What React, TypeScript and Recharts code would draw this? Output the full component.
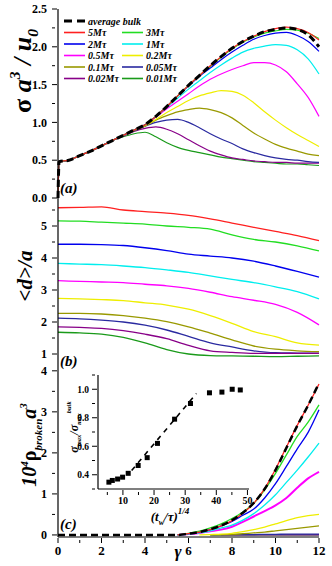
import React from "react"
import { LineChart, Line, XAxis, YAxis, Legend, Label, ComposedChart, Scatter, ReferenceLine } from "recharts"

const FONT = "'Liberation Serif', 'Times New Roman', serif"

// waiting times, legend order
const waitNames = ["5Mτ", "3Mτ", "2Mτ", "1Mτ", "0.5Mτ", "0.2Mτ", "0.1Mτ", "0.05Mτ", "0.02Mτ", "0.01Mτ"]
const waitColors = ["#ff2020", "#22dd22", "#0000ee", "#00eeee", "#ff00ff", "#eeee00", "#999900", "#2a2aa0", "#880088", "#1a9a1a"]

// (a) stress vs strain
const gammaA = [0, 0.05, 0.5, 1, 1.5, 2, 2.5, 3, 3.5, 4, 4.5, 5, 5.5, 6, 6.5, 7, 7.5, 8, 8.5, 9, 9.5, 10, 10.5, 11, 11.5, 12]
const earlyA = [0, 0.48, 0.5, 0.56, 0.62, 0.69, 0.76]
const bulkA = [...earlyA, 0.83, 0.9, 0.97, 1.08, 1.21, 1.35, 1.49, 1.62, 1.75, 1.87, 1.98, 2.07, 2.14, 2.2, 2.23, 2.25, 2.23, 2.16, 2.0]
const stressA = [
  [...earlyA, 0.83, 0.9, 0.97, 1.08, 1.21, 1.35, 1.49, 1.62, 1.75, 1.87, 1.98, 2.07, 2.14, 2.2, 2.24, 2.26, 2.24, 2.19, 2.09],
  [...earlyA, 0.83, 0.9, 0.97, 1.08, 1.21, 1.35, 1.49, 1.62, 1.74, 1.86, 1.97, 2.06, 2.13, 2.18, 2.21, 2.23, 2.22, 2.18, 2.11],
  [...earlyA, 0.83, 0.9, 0.97, 1.08, 1.21, 1.35, 1.48, 1.61, 1.72, 1.83, 1.93, 2.02, 2.1, 2.15, 2.18, 2.19, 2.15, 2.07, 1.94],
  [...earlyA, 0.83, 0.9, 0.97, 1.08, 1.2, 1.32, 1.44, 1.55, 1.66, 1.76, 1.85, 1.93, 1.98, 2.01, 2.03, 2.02, 1.96, 1.84, 1.64],
  [...earlyA, 0.83, 0.9, 0.97, 1.07, 1.18, 1.28, 1.38, 1.48, 1.57, 1.64, 1.7, 1.75, 1.79, 1.79, 1.76, 1.67, 1.51, 1.33, 1.08],
  [...earlyA, 0.83, 0.9, 0.96, 1.04, 1.13, 1.21, 1.29, 1.35, 1.39, 1.42, 1.41, 1.36, 1.26, 1.14, 1.03, 0.93, 0.84, 0.76, 0.68],
  [...earlyA, 0.83, 0.89, 0.95, 1.03, 1.09, 1.14, 1.17, 1.19, 1.17, 1.13, 1.06, 0.96, 0.86, 0.78, 0.71, 0.66, 0.62, 0.58, 0.56],
  [...earlyA, 0.83, 0.89, 0.95, 1.0, 1.03, 1.04, 1.0, 0.93, 0.85, 0.78, 0.72, 0.65, 0.6, 0.56, 0.53, 0.51, 0.5, 0.48, 0.47],
  [...earlyA, 0.82, 0.88, 0.92, 0.94, 0.91, 0.85, 0.77, 0.69, 0.62, 0.57, 0.53, 0.51, 0.49, 0.48, 0.47, 0.47, 0.46, 0.46, 0.46],
  [...earlyA, 0.81, 0.85, 0.87, 0.81, 0.73, 0.67, 0.63, 0.6, 0.57, 0.54, 0.52, 0.5, 0.48, 0.47, 0.46, 0.45, 0.45, 0.44, 0.43],
]

// (b) mean distance
const gammaB = [0, 1, 2, 3, 4, 5, 6, 7, 8, 9, 10, 11, 12]
const distB = [
  [5.57, 5.58, 5.6, 5.5, 5.45, 5.4, 5.33, 5.22, 5.09, 4.96, 4.83, 4.7, 4.54],
  [5.16, 5.15, 5.12, 5.09, 5.06, 5.0, 4.96, 4.9, 4.72, 4.58, 4.5, 4.38, 4.22],
  [4.43, 4.43, 4.42, 4.39, 4.32, 4.23, 4.12, 4.06, 4.0, 3.9, 3.75, 3.58, 3.4],
  [3.83, 3.81, 3.79, 3.75, 3.7, 3.63, 3.55, 3.44, 3.33, 3.23, 3.1, 2.95, 2.72],
  [3.29, 3.27, 3.25, 3.23, 3.18, 3.13, 3.05, 2.93, 2.79, 2.68, 2.55, 2.3, 1.91],
  [2.74, 2.72, 2.7, 2.67, 2.6, 2.53, 2.4, 2.2, 1.96, 1.7, 1.54, 1.35, 1.28],
  [2.27, 2.27, 2.25, 2.2, 2.12, 2.01, 1.85, 1.65, 1.44, 1.25, 1.15, 1.1, 1.07],
  [2.12, 2.1, 2.06, 2.0, 1.9, 1.75, 1.55, 1.35, 1.22, 1.1, 1.04, 1.03, 1.02],
  [1.85, 1.83, 1.8, 1.73, 1.62, 1.48, 1.27, 1.1, 1.05, 1.02, 1.02, 1.02, 1.02],
  [1.68, 1.66, 1.62, 1.52, 1.35, 1.14, 1.0, 0.95, 0.94, 0.93, 0.92, 0.93, 0.94],
]

// (c) broken bond density
const gap = (n: number) => Array(n).fill(null)
const gammaC = [0, 0.5, 1, 1.5, 2, 2.5, 3, 3.5, 4, 4.5, 5, 5.5, 6, 6.5, 7, 7.5, 8, 8.5, 9, 9.5, 10, 10.5, 11, 11.5, 12]
const bulkC = [0, 0, 0, 0, 0, 0, 0, 0, 0, 0, 0, 0, 0.03, 0.07, 0.14, 0.23, 0.36, 0.54, 0.78, 1.12, 1.58, 2.12, 2.66, 3.16, 3.7]
const brokenC = [
  [...gap(11), 0, 0.03, 0.07, 0.13, 0.22, 0.35, 0.53, 0.77, 1.13, 1.6, 2.14, 2.67, 3.16, 3.68],
  [...gap(11), 0, 0.04, 0.09, 0.17, 0.27, 0.4, 0.56, 0.77, 1.1, 1.5, 1.95, 2.4, 2.75, 3.17],
  [...gap(11), 0, 0.03, 0.07, 0.13, 0.22, 0.33, 0.48, 0.63, 0.9, 1.25, 1.67, 2.1, 2.5, 3.05],
  [...gap(11), 0, 0.02, 0.05, 0.1, 0.17, 0.24, 0.36, 0.52, 0.73, 0.98, 1.28, 1.58, 1.9, 2.24],
  [...gap(11), 0, 0.02, 0.05, 0.09, 0.13, 0.2, 0.32, 0.45, 0.58, 0.72, 0.9, 1.15, 1.38, 1.54],
  [...gap(13), 0, 0.01, 0.02, 0.04, 0.08, 0.13, 0.19, 0.27, 0.35, 0.42, 0.47, 0.5],
  [...gap(14), 0, 0.005, 0.01, 0.03, 0.05, 0.07, 0.1, 0.13, 0.16, 0.19, 0.22],
  [...gap(14), 0, 0.005, 0.01, 0.01, 0.01, 0.015, 0.015, 0.02, 0.02, 0.02, 0.02],
  [...gap(15), 0, 0, 0, 0, 0, 0, 0, 0, 0, 0.005],
  [...gap(14), 0, 0, 0, 0, 0, 0, 0, 0, 0, 0, 0],
]

// inset: peak stress ratio vs (t_w/tau)^1/4
const insetX = [5.5, 6.6, 8.3, 9.9, 11.7, 14.9, 17.8, 21.1, 26.6, 31.7, 37.8, 41.8, 45.1, 47.7]
const insetY = [0.348, 0.36, 0.37, 0.383, 0.41, 0.465, 0.52, 0.62, 0.79, 0.9, 0.975, 0.98, 1.0, 0.995]
const insetFit = [{ x: 12.8, y: 0.43 }, { x: 33.6, y: 0.97 }]

const gammaTicks = [0, 1, 2, 3, 4, 5, 6, 7, 8, 9, 10, 11, 12]

const rowsA = gammaA.map((g, i) => {
  const r: any = { g, bulk: bulkA[i] }
  stressA.forEach((s, k) => (r["s" + k] = s[i]))
  return r
})
const rowsB = gammaB.map((g, i) => {
  const r: any = { g }
  distB.forEach((s, k) => (r["s" + k] = s[i]))
  return r
})
const rowsC = gammaC.map((g, i) => {
  const r: any = { g, bulk: bulkC[i] }
  brokenC.forEach((s, k) => (r["s" + k] = s[i]))
  return r
})
const insetPts = insetX.map((x, i) => ({ x, y: insetY[i] }))

const isStep = (v: number, step: number) => Math.abs(v / step - Math.round(v / step)) < 1e-6

const leftTick = (step: number, fmt: (v: number) => string, size = 12, gapPx = 5) => (p: any) => {
  const v = p.payload.value
  const big = isStep(v, step)
  return (
    <g>
      <line x1={p.x} x2={p.x + (big ? 5 : 3)} y1={p.y} y2={p.y} stroke="#000" />
      {big && (
        <text x={p.x - gapPx} y={p.y} dy={size * 0.35} textAnchor="end" fontFamily={FONT} fontWeight="bold" fontSize={size}>
          {fmt(v)}
        </text>
      )}
    </g>
  )
}

const bottomTick = (step: number, labels: boolean, size = 12, dy = 11) => (p: any) => {
  const v = p.payload.value
  const big = isStep(v, step)
  return (
    <g>
      <line x1={p.x} x2={p.x} y1={p.y} y2={p.y - (big ? 5 : 3)} stroke="#000" />
      {labels && big && (
        <text x={p.x} y={p.y + dy} textAnchor="middle" fontFamily={FONT} fontWeight="bold" fontSize={size}>
          {v}
        </text>
      )}
    </g>
  )
}

const topTick = (step: number) => (p: any) => {
  const big = isStep(p.payload.value, step)
  return <line x1={p.x} x2={p.x} y1={p.y} y2={p.y + (big ? 5 : 3)} stroke="#000" />
}

const axisLine = { stroke: "#000", strokeWidth: 1.2 }

function PanelTag({ x, y, text }: { x: number; y: number; text: string }) {
  return (
    <text x={x} y={y} fontFamily={FONT} fontWeight="bold" fontStyle="italic" fontSize={15}>
      {text}
    </text>
  )
}

function renderLegend() {
  const rowY = (i: number) => 9 + 11.5 * i
  return (
    <svg width={170} height={76} style={{ overflow: "visible" }}>
      <line x1={4} x2={25} y1={rowY(0)} y2={rowY(0)} stroke="#000" strokeWidth={3} strokeDasharray="8 5" />
      <text x={28} y={rowY(0) + 3.5} fontFamily={FONT} fontWeight="bold" fontStyle="italic" fontSize={10}>
        average bulk
      </text>
      {waitNames.map((n, k) => {
        const col = k % 2
        const y = rowY(1 + Math.floor(k / 2))
        const x0 = col === 0 ? 4 : 62
        return (
          <g key={n}>
            <line x1={x0} x2={x0 + 21} y1={y} y2={y} stroke={waitColors[k]} strokeWidth={1.6} />
            <text x={x0 + 24} y={y + 3.5} fontFamily={FONT} fontWeight="bold" fontStyle="italic" fontSize={10}>
              {n}
            </text>
          </g>
        )
      })}
    </svg>
  )
}

function PanelA() {
  const s = 26
  return (
    <LineChart width={332} height={210} data={rowsA} margin={{ top: 9, right: 13, bottom: 12, left: 0 }}>
      <XAxis dataKey="g" type="number" domain={[0, 12]} ticks={gammaTicks} interval={0} height={0} axisLine={axisLine} tickLine={false} tickMargin={0} tick={bottomTick(2, false)} />
      <XAxis xAxisId="top" orientation="top" dataKey="g" type="number" domain={[0, 12]} ticks={gammaTicks} interval={0} height={0} axisLine={axisLine} tickLine={false} tickMargin={0} tick={topTick(2)} />
      <YAxis type="number" domain={[0, 2.5]} ticks={[0, 0.25, 0.5, 0.75, 1, 1.25, 1.5, 1.75, 2, 2.25, 2.5]} interval={0} width={58} axisLine={axisLine} tickLine={false} tickMargin={0} tick={leftTick(0.5, (v) => v.toFixed(1))}>
        <Label
          content={() => (
            <text transform="translate(31,71) rotate(-90)" textAnchor="middle" fontFamily={FONT} fontWeight="bold" fontStyle="italic" fontSize={s}>
              <tspan fontStyle="normal">σ</tspan>
              <tspan> a</tspan>
              <tspan dy={-s * 0.42} fontSize={s * 0.6}>3</tspan>
              <tspan dy={s * 0.42}> / u</tspan>
              <tspan dy={s * 0.25} fontSize={s * 0.6}>0</tspan>
            </text>
          )}
        />
        <Label content={() => <PanelTag x={60} y={193} text="(a)" />} />
      </YAxis>
      <YAxis yAxisId="r" orientation="right" type="number" domain={[0, 2.5]} width={0} axisLine={axisLine} tick={false} tickLine={false} />
      <Legend layout="vertical" align="center" verticalAlign="middle" wrapperStyle={{ left: 60, top: 12, width: 170, height: 76 }} content={renderLegend} />
      {waitNames.map((n, k) => k).reverse().map((k) => (
        <Line key={k} dataKey={"s" + k} name={waitNames[k]} stroke={waitColors[k]} strokeWidth={1.2} dot={false} type="monotone" isAnimationActive={false} />
      ))}
      <Line dataKey="bulk" name="average bulk" stroke="#000" strokeWidth={3} strokeDasharray="7 4" dot={false} type="monotone" isAnimationActive={false} />
    </LineChart>
  )
}

function PanelB() {
  const s = 21
  return (
    <LineChart width={332} height={182} data={rowsB} margin={{ top: 8, right: 13, bottom: 2, left: 0 }}>
      <XAxis dataKey="g" type="number" domain={[0, 12]} ticks={gammaTicks} interval={0} height={0} axisLine={axisLine} tickLine={false} tickMargin={0} tick={bottomTick(2, false)} />
      <XAxis xAxisId="top" orientation="top" dataKey="g" type="number" domain={[0, 12]} ticks={gammaTicks} interval={0} height={0} axisLine={axisLine} tickLine={false} tickMargin={0} tick={topTick(2)} />
      <YAxis type="number" domain={[0.5, 5.875]} allowDataOverflow ticks={[1, 1.5, 2, 2.5, 3, 3.5, 4, 4.5, 5, 5.5]} interval={0} width={58} axisLine={axisLine} tickLine={false} tickMargin={0} tick={leftTick(1, (v) => String(v))}>
        <Label
          content={() => (
            <text transform="translate(32,86) rotate(-90)" textAnchor="middle" fontFamily={FONT} fontWeight="bold" fontStyle="italic" fontSize={s}>
              {"<d>/a"}
            </text>
          )}
        />
        <Label content={() => <PanelTag x={60} y={176} text="(b)" />} />
      </YAxis>
      <YAxis yAxisId="r" orientation="right" type="number" domain={[0.5, 5.875]} width={0} axisLine={axisLine} tick={false} tickLine={false} />
      {distB.map((d, k) => (
        <Line key={k} dataKey={"s" + k} name={waitNames[k]} stroke={waitColors[k]} strokeWidth={1.3} dot={false} type="monotone" isAnimationActive={false} />
      ))}
    </LineChart>
  )
}

function PanelC() {
  const s = 20
  return (
    <LineChart width={332} height={204} data={rowsC} margin={{ top: 8, right: 13, bottom: 0, left: 0 }}>
      <XAxis dataKey="g" type="number" domain={[0, 12]} ticks={gammaTicks} interval={0} height={29} axisLine={axisLine} tickLine={false} tickMargin={0} tick={bottomTick(2, true, 13, 12)}>
        <Label
          content={() => (
            <text x={178} y={195} textAnchor="middle" fontFamily={FONT} fontWeight="bold" fontStyle="italic" fontSize={17}>
              γ
            </text>
          )}
        />
      </XAxis>
      <XAxis xAxisId="top" orientation="top" dataKey="g" type="number" domain={[0, 12]} ticks={gammaTicks} interval={0} height={0} axisLine={axisLine} tickLine={false} tickMargin={0} tick={topTick(2)} />
      <YAxis type="number" domain={[-0.05, 4.02]} allowDataOverflow ticks={[0, 0.5, 1, 1.5, 2, 2.5, 3, 3.5, 4]} interval={0} width={58} axisLine={axisLine} tickLine={false} tickMargin={0} tick={leftTick(1, (v) => String(v))}>
        <Label
          content={() => (
            <text transform="translate(36,83) rotate(-90)" textAnchor="middle" fontFamily={FONT} fontWeight="bold" fontStyle="italic" fontSize={s}>
              <tspan>10</tspan>
              <tspan dy={-s * 0.42} fontSize={s * 0.55}>4</tspan>
              <tspan dy={s * 0.42} fontStyle="normal">ρ</tspan>
              <tspan dy={s * 0.28} fontSize={s * 0.55}>broken</tspan>
              <tspan dy={-s * 0.28}>a</tspan>
              <tspan dy={-s * 0.45} fontSize={s * 0.55}>3</tspan>
            </text>
          )}
        />
        <Label content={() => <PanelTag x={60} y={167} text="(c)" />} />
      </YAxis>
      <YAxis yAxisId="r" orientation="right" type="number" domain={[-0.05, 4.02]} width={0} axisLine={axisLine} tick={false} tickLine={false} />
      {brokenC.map((d, k) => k).reverse().map((k) => (
        <Line key={k} dataKey={"s" + k} name={waitNames[k]} stroke={waitColors[k]} strokeWidth={k === 4 ? 2 : 1.3} dot={false} type="monotone" connectNulls={false} isAnimationActive={false} />
      ))}
      <Line dataKey="bulk" name="average bulk" stroke="#000" strokeWidth={2.5} strokeDasharray="7 4" dot={false} type="monotone" isAnimationActive={false} />
    </LineChart>
  )
}

const square = (p: any) => <rect x={p.cx - 2.5} y={p.cy - 2.5} width={5} height={5} fill="#000" />

function Inset() {
  return (
    <ComposedChart width={195} height={155} data={insetPts} margin={{ top: 3, right: 6, bottom: 0, left: 0 }}>
      <XAxis dataKey="x" type="number" domain={[2, 50.5]} ticks={[5, 10, 15, 20, 25, 30, 35, 40, 45, 50]} interval={0} height={38} axisLine={axisLine} tickLine={false} tickMargin={0} tick={bottomTick(10, true, 10, 9)}>
        <Label
          content={() => (
            <text x={110} y={149} textAnchor="middle" fontFamily={FONT} fontWeight="bold" fontStyle="italic" fontSize={13}>
              <tspan>(t</tspan>
              <tspan dy={4} fontSize={8}>w</tspan>
              <tspan dy={-4}>/τ)</tspan>
              <tspan dy={-7} fontSize={9}>1/4</tspan>
            </text>
          )}
        />
      </XAxis>
      <XAxis xAxisId="top" orientation="top" dataKey="x" type="number" domain={[2, 50.5]} height={0} axisLine={axisLine} tick={false} tickLine={false} />
      <YAxis dataKey="y" type="number" domain={[0.3, 1.1]} ticks={[0.3, 0.4, 0.5, 0.6, 0.7, 0.8, 0.9, 1.0, 1.1]} interval={0} width={38} axisLine={axisLine} tickLine={false} tickMargin={0} tick={leftTick(0.2, (v) => v.toFixed(1), 9.5, 3)}>
        <Label
          content={() => (
            <text transform="translate(18,55) rotate(-90)" textAnchor="middle" fontFamily={FONT} fontWeight="bold" fontStyle="italic" fontSize={12}>
              <tspan>σ</tspan>
              <tspan dy={2.5} fontSize={6.5}>max</tspan>
              <tspan dy={-2.5}>/σ</tspan>
              <tspan dy={2.5} fontSize={6.5}>max</tspan>
              <tspan dy={-10} fontSize={6.5}>bulk</tspan>
            </text>
          )}
        />
      </YAxis>
      <YAxis yAxisId="r" orientation="right" dataKey="y" type="number" domain={[0.3, 1.1]} width={0} axisLine={axisLine} tick={false} tickLine={false} />
      <ReferenceLine segment={insetFit} stroke="#000" strokeWidth={1.6} strokeDasharray="5 5" />
      <Scatter dataKey="y" fill="#000" shape={square} isAnimationActive={false} />
    </ComposedChart>
  )
}

export default function App() {
  return (
    <div style={{ position: "absolute", left: 0, top: 0, width: 332, height: 566, background: "#fff", overflow: "hidden" }}>
      <div style={{ position: "absolute", left: 0, top: 0 }}>
        <PanelA />
      </div>
      <div style={{ position: "absolute", left: 0, top: 190 }}>
        <PanelB />
      </div>
      <div style={{ position: "absolute", left: 0, top: 362 }}>
        <PanelC />
      </div>
      <div style={{ position: "absolute", left: 60, top: 372 }}>
        <Inset />
      </div>
    </div>
  )
}
